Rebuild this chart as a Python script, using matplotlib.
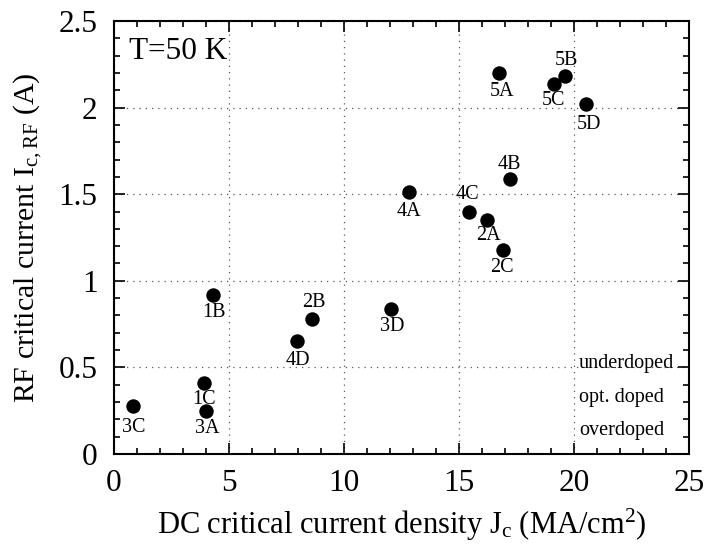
import matplotlib
matplotlib.use("Agg")
import matplotlib.pyplot as plt
from matplotlib.ticker import MultipleLocator

plt.rcParams['font.family'] = ['Liberation Serif', 'DejaVu Serif']
plt.rcParams['mathtext.fontset'] = 'custom'
plt.rcParams['mathtext.rm'] = 'Liberation Serif'
plt.rcParams['mathtext.it'] = 'Liberation Serif'

# data
labels = ['3C', '1C', '3A', '1B', '4D', '2B', '3D', '4A', '4C', '2A', '2C', '4B', '5A', '5B', '5C', '5D']
jc = [0.81, 3.90, 4.01, 4.28, 7.97, 8.62, 12.03, 12.83, 15.41, 16.20, 16.90, 17.19, 16.73, 19.61, 19.12, 20.52]
ic_rf = [0.28, 0.41, 0.25, 0.92, 0.65, 0.78, 0.84, 1.51, 1.40, 1.35, 1.18, 1.585, 2.20, 2.185, 2.135, 2.02]
# label offsets in points (dx, dy); negative dy = below
offsets = {'3C': (1, -16), '1C': (0, -12), '3A': (1, -13), '1B': (1, -13), '4D': (0, -14),
           '2B': (1, 12), '3D': (1, -13), '4A': (0, -14), '4C': (-1, 12), '2A': (1, -11),
           '2C': (-1, -13), '4B': (0, 11), '5A': (2, -13), '5B': (1, 11), '5C': (0, -12),
           '5D': (2, -15)}
legend_labels = ['underdoped', 'opt. doped', 'overdoped']
legend_y = [0.52, 0.328, 0.135]

fig = plt.figure(figsize=(7.04, 5.46), dpi=100)
ax = fig.add_axes([0.162, 0.1685, 0.817, 0.793])

ax.scatter(jc, ic_rf, s=108, c='black', zorder=3, linewidths=0)
for lab, x, y in zip(labels, jc, ic_rf):
    dx, dy = offsets[lab]
    ax.annotate(lab, (x, y), xytext=(dx, dy), textcoords='offset points',
                ha='center', va='center', fontsize=14.5)

for t, y in zip(legend_labels, legend_y):
    ax.text(20.2, y, t, ha='left', va='center', fontsize=14.5)

ax.text(0.026, 0.962, 'T=50 K', transform=ax.transAxes, ha='left', va='top', fontsize=22.5)

ax.set_xlim(0, 25)
ax.set_ylim(0, 2.5)
ax.xaxis.set_minor_locator(MultipleLocator(1))
ax.yaxis.set_minor_locator(MultipleLocator(0.1))
ax.set_xticks([0, 5, 10, 15, 20, 25])
ax.set_xticklabels(['0', '5', '10', '15', '20', '25'])
ax.set_yticks([0, 0.5, 1, 1.5, 2, 2.5])
ax.set_yticklabels(['0', '0.5', '1', '1.5', '2', '2.5'])

ax.tick_params(which='both', direction='in', top=True, right=True, width=1.2)
ax.tick_params(which='major', length=8, labelsize=22.5)
ax.tick_params(axis='x', which='major', pad=11)
ax.tick_params(axis='y', which='major', pad=12)
ax.tick_params(which='minor', length=4)
for s in ax.spines.values():
    s.set_linewidth(1.5)

ax.grid(True, which='major', color='0.35', linewidth=0.9, linestyle=(0, (1, 4)))

ax.set_xlabel(r'DC critical current density J$_{\mathrm{c}}$ (MA/cm$^{2}$)', fontsize=22, labelpad=6)
ax.set_ylabel(r'RF critical current I$_{\mathrm{c,RF}}$ (A)', fontsize=21.5, labelpad=10)

fig.savefig('out.png', dpi=100)
